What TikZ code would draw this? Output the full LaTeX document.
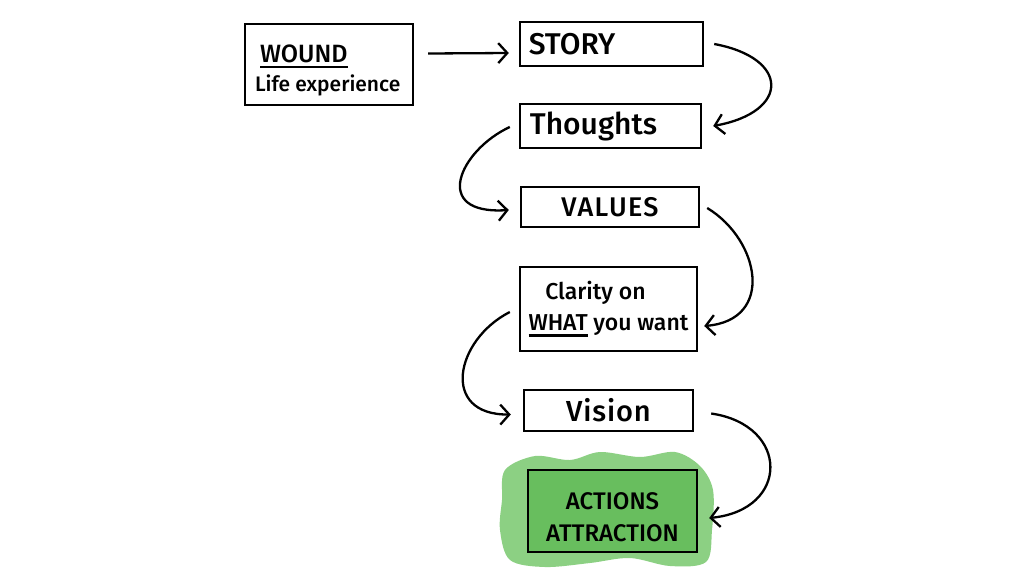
\documentclass[tikz,border=0pt]{standalone}
\usepackage{fontspec}
\setmainfont{Fira Sans Medium}
\newcommand\myul[1]{\sbox0{#1}\rlap{\usebox0}\rule[-6pt]{\wd0}{2.2pt}}
\usetikzlibrary{arrows.meta,calc}
\definecolor{blobgreen}{RGB}{120,200,110}
\definecolor{boxgreen}{RGB}{104,190,94}
\tikzset{
  box/.style={draw=black, line width=2.4pt, inner sep=0pt, align=center, font=\fontsize{30}{33}\selectfont},
  boxtext/.style={inner sep=0pt},
  conn/.style={line width=2.3pt, -{Straight Barb[length=9pt,width=20pt,line width=2.3pt]}},
}
\begin{document}
\begin{tikzpicture}[x=1pt,y=-1pt]
\useasboundingbox (0,0) rectangle (1024,576);
\fill[white] (0,0) rectangle (1024,576);
% green highlight
\fill[blobgreen, opacity=0.85] plot[smooth cycle, tension=0.55] coordinates {(505,470) (535,456) (570,460) (600,452) (640,457) (675,452) (700,466) (713,490) (712,530) (706,562) (670,566) (630,558) (590,563) (545,567) (510,560) (500,530) (502,500)};
% boxes
\node[box, minimum width=168pt, minimum height=81pt] (wound) at (329,64.5) {};
\node[boxtext, align=left, anchor=west] (woundtext) at ($(wound.west)+(11,6)$) {\hspace*{5pt}{\fontsize{25}{27}\selectfont\myul{WOUND}}\\[6pt]{\fontsize{21}{24}\selectfont Life experience}};
\node[box, minimum width=183pt, minimum height=44pt] (story) at (611.5,44) {\hspace*{-79pt}STORY};
\node[box, minimum width=181pt, minimum height=44pt] (thoughts) at (610.5,126) {\hspace*{-34pt}Thoughts};
\node[box, minimum width=178pt, minimum height=40pt, font=\fontsize{27}{30}\selectfont\addfontfeature{LetterSpace=5}] (values) at (610,207) {VALUES};
\node[box, minimum width=177pt, minimum height=84pt, font=\fontsize{23}{31}\selectfont] (clarity) at (608.5,309) {Clarity on\hspace*{26pt}\\\myul{WHAT} you want};
\node[box, minimum width=169pt, minimum height=41pt, font=\fontsize{29}{32}\selectfont\addfontfeature{LetterSpace=3}] (vision) at (608.5,410.5) {Vision};
\node[box, fill=boxgreen, minimum width=169pt, minimum height=82pt] (actions) at (612.5,511) {};
\node[boxtext, align=center, font=\fontsize{24}{32}\selectfont] (actionstext) at ($(actions.center)+(0,6)$) {ACTIONS\\ATTRACTION};
% connectors
\draw[conn] ($(wound.east)+(14,-11)$) -- ($(story.west)+(-10,9)$);
\draw[conn] ($(story.east)+(10,0)$) .. controls (790,58) and (790,112) .. ($(thoughts.east)+(11,0)$);
\draw[conn] ($(thoughts.west)+(-9,1)$) .. controls (460,150) and (430,215) .. ($(values.west)+(-11,3)$);
\draw[conn] ($(values.east)+(7,1)$) .. controls (760,240) and (775,320) .. ($(clarity.east)+(6,17)$);
\draw[conn] ($(clarity.west)+(-9,3)$) .. controls (455,340) and (440,415) .. ($(vision.west)+(-12,4)$);
\draw[conn] ($(vision.east)+(17,3)$) .. controls (790,425) and (790,510) .. ($(actions.east)+(11,7)$);
\end{tikzpicture}
\end{document}
